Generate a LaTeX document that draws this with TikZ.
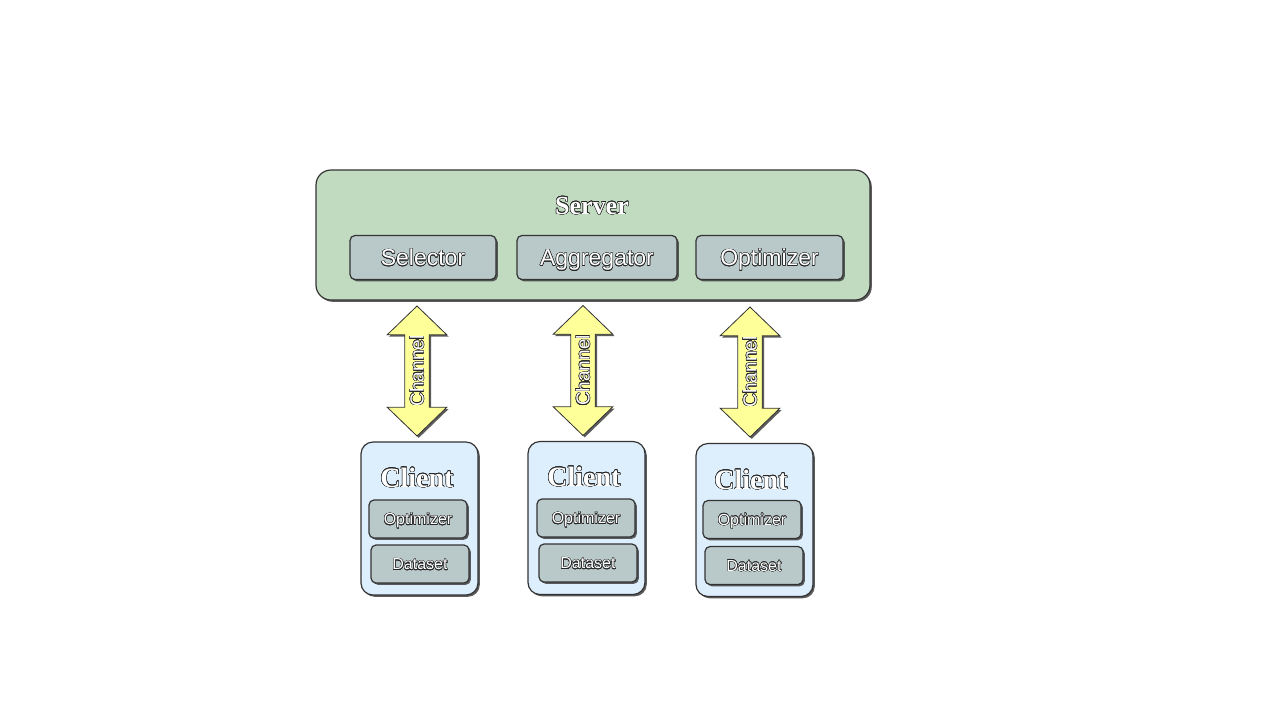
\documentclass[tikz,border=0pt]{standalone}
\usepackage{fontspec}
\setmainfont{Liberation Sans}
\newfontfamily\titlefont{Liberation Serif}
\usepackage{contour}
\contourlength{0.25pt}
\usetikzlibrary{shapes.arrows, shadows}

\definecolor{serverfill}{HTML}{C1DBC1}
\definecolor{modfill}{HTML}{B9C9CA}
\definecolor{clientfill}{HTML}{DDEEFC}
\definecolor{chanfill}{HTML}{FFFF99}

% white letters with a dark rim
\newcommand{\emb}[1]{\textcolor{white}{\contour{black!85}{#1}}}

\begin{document}
\begin{tikzpicture}[
  x=0.5pt, y=-0.5pt,
  shade/.style={drop shadow={shadow xshift=0.9pt, shadow yshift=-0.9pt, fill=black!75, opacity=0.85}},
  server/.style={draw=black!80, semithick, rounded corners=7.5pt, fill=serverfill, minimum width=277pt, minimum height=65pt, shade},
  module/.style={draw=black!80, semithick, rounded corners=2.5pt, fill=modfill, minimum height=22pt, text height=8.2pt, text depth=0pt, font=\fontsize{11.5}{12}\selectfont, shade},
  client/.style={draw=black!80, semithick, rounded corners=6pt, fill=clientfill, minimum width=58.5pt, minimum height=76.5pt, shade},
  part/.style={draw=black!80, semithick, rounded corners=2.5pt, fill=modfill, minimum width=49pt, minimum height=19pt, text height=5.9pt, text depth=0pt, font=\fontsize{8}{9}\selectfont, shade},
  chan/.style={double arrow, draw=black!80, fill=chanfill, rotate=90, minimum height=65pt, minimum width=29pt, double arrow head extend=8.8pt, double arrow tip angle=92, inner xsep=0pt, inner ysep=2.3pt, font=\fontsize{9.5}{10}\selectfont, shade},
  title/.style={font=\titlefont\bfseries\fontsize{13}{14}\selectfont},
  ctitle/.style={font=\titlefont\bfseries\fontsize{14}{15}\selectfont}
]
\fill[white] (0,0) rectangle (1280,720);
\useasboundingbox (0,0) rectangle (1280,720);

% --- server ---
\node[server] (server) at (593,235) {};
\node[title] (srvlab) at (592,206) {\emb{Server}};
\node[module, minimum width=73pt]   (sel) at (423,257.5) {\emb{Selector}};
\node[module, minimum width=80pt]   (agg) at (597,257.5) {\emb{Aggregator}};
\node[module, minimum width=73.5pt] (opt) at (769.5,257.5) {\emb{Optimizer}};

% --- channels ---
\node[chan] (ch1) at (417,371) {\emb{Channel}};
\node[chan] (ch2) at (583,370.5) {\emb{Channel}};
\node[chan] (ch3) at (750,372) {\emb{Channel}};

% --- clients ---
\node[client] (c1) at (419.5,518.5) {};
\node[ctitle] (c1lab) at (417,478) {\emb{Client}};
\node[part] (c1opt) at (418,519) {\emb{Optimizer}};
\node[part] (c1dat) at (420,564) {\emb{Dataset}};

\node[client] (c2) at (586.5,518) {};
\node[ctitle] (c2lab) at (584,477) {\emb{Client}};
\node[part] (c2opt) at (586,518) {\emb{Optimizer}};
\node[part] (c2dat) at (588,563) {\emb{Dataset}};

\node[client] (c3) at (754.5,520) {};
\node[ctitle] (c3lab) at (751,480) {\emb{Client}};
\node[part] (c3opt) at (752,519.5) {\emb{Optimizer}};
\node[part] (c3dat) at (754,565.5) {\emb{Dataset}};
\end{tikzpicture}
\end{document}
